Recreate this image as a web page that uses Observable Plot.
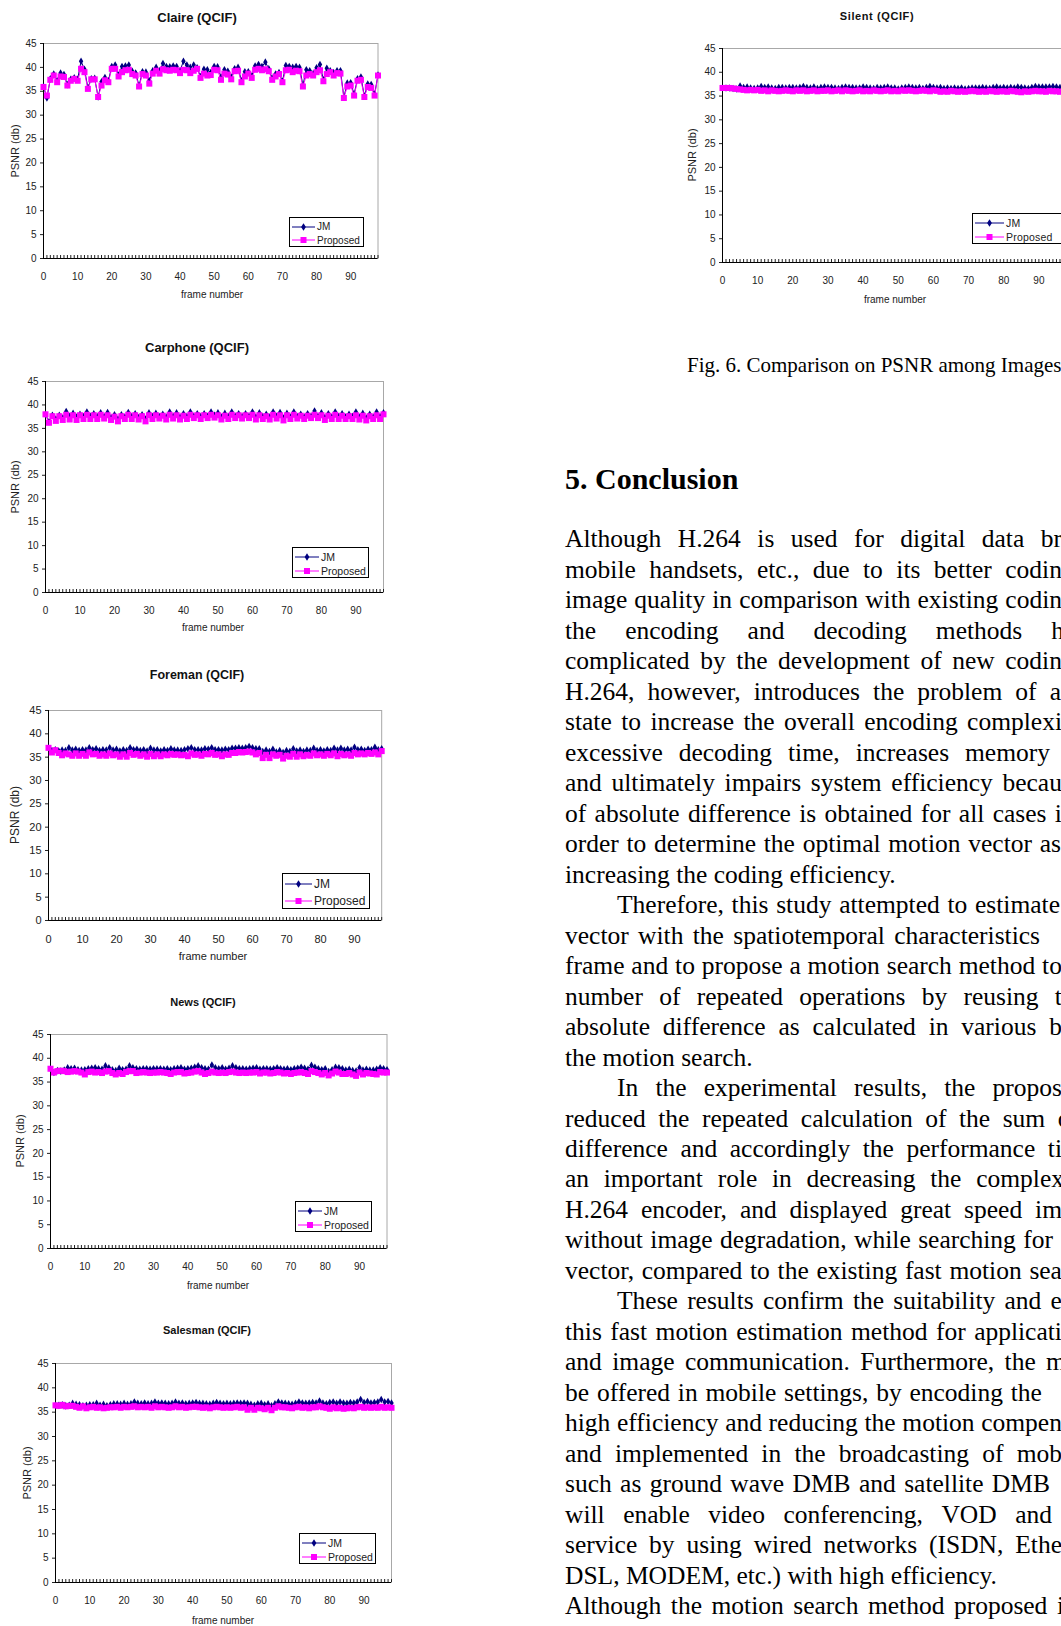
<!DOCTYPE html>
<html><head><meta charset="utf-8">
<script src="https://cdn.jsdelivr.net/npm/d3@7"></script>
<script src="https://cdn.jsdelivr.net/npm/@observablehq/plot@0.6"></script>
<style>
html,body{margin:0;padding:0;background:#fff;overflow:hidden;}
#page{position:relative;width:1061px;height:1626px;overflow:hidden;background:#fff;}
.abs{position:absolute;}
.sans{font-family:"Liberation Sans",Arial,sans-serif;color:#222;white-space:nowrap;}
.ctitle{font-weight:bold;color:#111;transform:translate(-50%,-50%);}
.ylab{transform:translate(-50%,-50%) rotate(-90deg);}
.xlab{transform:translate(-50%,-50%);}
.serif{font-family:"Liberation Serif","Times New Roman",serif;color:#000;white-space:nowrap;}
.tline{display:flex;justify-content:space-between;font-size:25.5px;height:30.49px;line-height:30.49px;}
.tline.end{justify-content:flex-start;}
</style></head>
<body><div id="page"></div>
<script>
// ---------- data ----------
const frames = d3.range(0, 99);
const yTicks = d3.range(0, 46, 5);
const xLabelTicks = d3.range(0, 91, 10);
const seriesNames = ["JM", "Proposed"];

const claireJM = [36.0,33.6,37.6,38.6,37.2,38.8,38.5,36.4,37.5,37.8,37.5,41.3,39.6,35.8,37.6,37.7,33.8,37.0,37.9,37.2,
40.2,40.5,38.4,40.2,40.3,40.5,39.2,38.8,36.2,39.1,39.0,37.2,39.3,40.0,39.3,40.8,40.2,40.1,40.3,40.2,
39.3,41.3,40.5,40.0,40.5,39.9,38.1,39.6,39.5,38.9,40.2,40.1,38.0,39.5,39.2,38.0,39.7,40.0,37.2,39.1,
39.1,38.2,40.3,40.6,40.2,41.1,39.7,37.7,38.6,38.9,37.1,40.4,40.2,40.0,40.2,40.0,36.3,39.5,39.3,38.7,
39.9,40.6,37.4,39.8,39.3,38.9,39.3,39.3,33.8,36.7,36.8,34.4,37.6,38.0,34.0,36.5,36.4,34.4,38.4];
const claireProposed = [35.9,34.1,37.4,38.3,36.9,38.1,38.0,36.2,37.2,37.6,37.2,39.7,39.0,35.5,37.5,37.5,33.8,36.2,37.3,36.9,
39.7,39.7,38.1,39.0,39.4,39.5,38.6,38.3,36.0,38.6,38.3,36.6,38.7,39.3,38.7,39.6,39.4,39.3,39.5,39.4,
38.8,39.5,39.4,38.8,39.3,39.7,37.8,38.7,38.3,38.4,39.5,39.4,37.4,38.7,38.5,37.5,39.2,39.3,36.9,38.1,
38.7,37.8,39.5,39.7,39.4,39.6,39.2,37.4,38.1,38.6,36.9,39.4,39.5,39.0,39.3,39.2,36.0,38.3,38.6,38.3,
39.0,39.4,37.1,38.6,39.0,38.3,38.8,38.7,33.6,36.0,36.2,34.1,37.2,37.4,33.8,35.9,35.7,34.1,38.3];

const carphoneJM = [38.0,36.4,37.8,37.0,37.8,37.2,38.6,37.6,38.2,37.4,38.0,37.5,38.5,37.6,38.1,37.5,38.3,37.5,38.4,37.3,
37.9,37.0,37.9,37.4,38.4,37.5,38.1,37.3,37.9,37.0,38.3,37.5,38.2,37.5,38.0,37.4,38.5,37.6,38.3,37.4,
38.1,37.5,38.5,37.6,38.1,37.5,38.1,37.6,38.5,37.8,38.3,37.4,38.2,37.5,38.5,37.6,38.1,37.5,38.1,37.6,
38.5,37.4,38.3,37.5,38.0,37.4,38.5,37.6,38.4,37.2,38.2,37.4,38.5,37.5,38.0,37.4,38.1,37.6,38.7,37.6,
38.3,37.3,38.1,37.4,38.5,37.5,38.1,37.4,38.0,37.5,38.5,37.4,38.2,37.2,38.0,37.4,38.5,37.5,38.3];
const carphoneProposed = [38.0,36.2,37.6,36.6,37.6,36.8,37.9,36.9,37.8,36.8,37.8,37.0,37.9,37.0,37.8,37.0,37.9,37.1,37.8,36.8,
37.5,36.5,37.6,37.0,37.9,37.0,37.8,36.9,37.6,36.5,37.8,37.0,37.8,37.1,37.7,36.9,37.9,37.1,37.8,36.9,
37.7,37.0,37.9,37.2,37.8,37.0,37.8,37.2,37.9,37.3,37.8,36.9,37.7,37.0,37.9,37.2,37.8,37.1,37.8,37.2,
37.9,36.9,37.8,37.0,37.6,36.9,37.9,37.1,37.8,36.7,37.8,37.0,37.9,37.1,37.7,37.0,37.7,37.2,37.9,37.2,
37.8,36.8,37.7,37.0,37.9,37.0,37.7,37.0,37.6,37.0,37.8,36.9,37.7,36.7,37.6,37.0,37.8,37.0,38.0];

const foremanJM = [37.0,36.4,36.6,36.3,36.5,36.4,37.0,36.5,36.7,36.4,36.6,36.5,37.0,36.6,36.8,36.4,36.6,36.5,37.0,36.5,
36.7,36.3,36.6,36.4,37.0,36.6,36.7,36.4,36.6,36.3,36.9,36.5,36.6,36.3,36.6,36.4,36.8,36.5,36.5,36.4,
36.6,36.8,37.0,36.6,36.6,36.5,36.8,36.7,37.0,36.6,36.6,36.5,36.7,36.6,36.9,36.9,37.0,36.9,37.0,37.3,
37.0,36.8,36.8,36.2,36.5,36.2,36.7,36.1,36.4,36.0,36.4,36.2,36.8,36.3,36.5,36.2,36.5,36.4,36.9,36.4,
36.6,36.3,36.6,36.4,36.9,36.5,36.9,36.5,36.7,36.5,37.1,36.6,36.7,36.4,36.7,36.6,37.1,36.6,36.8];
const foremanProposed = [37.0,36.0,36.5,35.9,35.4,35.8,35.6,35.3,35.8,35.3,35.7,35.3,36.0,35.6,35.7,35.3,35.6,35.3,35.8,35.4,
35.6,35.1,35.6,35.1,35.9,35.5,35.7,35.3,35.6,35.1,35.7,35.2,35.6,35.2,35.6,35.4,35.7,35.5,35.6,35.4,
35.5,35.2,35.8,35.5,35.6,35.3,35.7,35.6,35.9,35.5,35.6,35.2,35.6,35.5,35.9,35.9,36.1,36.0,36.1,36.2,
36.0,35.6,35.9,34.8,35.5,34.8,35.6,35.3,35.5,34.7,35.3,35.1,35.7,35.1,35.6,35.2,35.5,35.3,35.8,35.4,
35.6,35.3,35.7,35.4,35.8,35.2,35.7,35.4,35.6,35.3,35.9,35.6,35.8,35.6,35.9,35.7,36.0,35.6,36.3];

const newsJM = [37.8,37.0,37.4,37.3,37.5,38.0,37.8,37.9,37.6,37.5,37.6,37.8,37.9,38.0,37.8,37.7,38.4,38.0,37.6,37.4,
37.9,37.6,37.7,38.4,38.0,37.8,37.7,37.8,37.8,37.7,37.8,37.8,37.8,37.7,37.8,37.6,37.8,37.9,38.0,37.7,
37.8,37.9,38.1,38.4,38.0,37.8,37.7,38.6,38.0,37.8,38.0,37.7,37.9,38.4,38.0,37.8,37.8,37.7,37.8,37.9,
38.0,37.7,37.8,37.8,37.7,37.8,38.0,37.8,37.7,37.8,37.6,37.8,37.9,38.1,37.9,37.7,38.5,38.1,37.8,37.6,
37.8,37.2,37.6,38.1,38.0,37.8,37.5,37.7,37.4,37.3,38.0,37.5,37.7,37.5,37.5,37.7,38.0,37.8,37.6];
const newsProposed = [37.8,37.0,37.3,37.4,37.3,37.1,37.2,37.3,37.2,37.0,36.6,37.1,37.2,37.0,37.1,36.9,37.2,37.3,36.9,36.6,
36.9,36.7,37.1,37.3,37.3,36.9,37.0,37.1,37.0,36.9,37.0,37.0,37.1,37.0,36.9,36.7,37.0,37.1,37.1,36.8,
36.9,37.0,37.2,37.3,37.0,36.7,36.9,37.2,37.0,36.9,37.0,36.9,37.1,37.2,37.0,36.9,37.0,36.9,37.0,37.0,
37.1,36.8,37.0,37.0,36.8,36.9,37.1,37.0,36.8,36.9,36.7,36.9,37.0,37.1,36.9,36.7,37.3,37.1,36.9,36.6,
36.9,36.4,36.8,37.2,37.0,36.7,36.7,36.9,36.6,36.3,37.0,36.6,36.9,36.8,36.7,36.6,37.1,37.0,37.0];

const salesmanJM = [36.4,36.4,36.5,36.3,36.4,36.8,36.6,36.5,36.3,36.4,36.5,36.5,36.8,36.4,36.6,36.3,36.5,36.7,36.7,36.6,
36.8,36.6,36.7,37.1,36.8,36.7,36.9,36.7,36.8,37.1,36.8,36.9,36.8,36.7,36.8,37.1,36.8,36.9,36.7,36.8,
36.9,37.0,36.8,36.8,36.7,36.6,36.8,37.0,36.8,36.7,36.8,36.7,36.8,36.9,36.8,36.9,36.8,36.6,36.4,36.7,
36.8,36.5,36.7,36.3,36.7,37.1,36.9,36.8,36.7,36.6,36.8,37.1,36.9,36.8,36.9,37.0,36.9,37.3,36.9,36.7,
37.0,37.1,36.8,37.1,36.9,36.8,37.0,36.9,37.1,37.6,37.0,37.2,36.9,37.0,37.1,37.6,37.1,37.2,36.9];
const salesmanProposed = [36.4,36.3,36.5,36.2,36.3,36.3,36.1,35.9,36.2,35.8,36.0,36.1,35.9,36.0,35.8,35.9,36.0,36.0,36.1,35.9,
36.1,36.0,36.1,36.2,36.0,36.1,36.0,36.1,35.9,36.2,36.0,36.1,36.0,35.9,36.0,36.2,36.0,36.1,35.9,36.0,
36.1,36.1,36.0,35.9,36.0,35.8,36.0,36.1,36.0,35.9,36.0,35.9,36.0,36.1,35.9,36.0,35.5,35.9,35.5,35.9,
35.8,35.6,35.9,35.4,35.9,36.2,36.0,36.0,35.9,35.8,36.0,36.1,35.9,36.0,35.8,36.0,36.0,36.2,36.0,35.9,
35.7,36.0,35.8,35.9,35.7,35.8,35.9,35.8,36.0,36.1,35.9,36.0,35.9,36.0,35.9,36.1,35.9,36.0,35.9];

const silentJM = [36.7,36.7,36.7,36.6,36.5,37.1,36.8,36.9,36.7,36.6,36.7,37.0,36.8,36.9,36.7,36.6,36.8,36.8,36.7,36.8,
36.8,36.7,36.8,37.0,36.8,36.7,36.9,36.6,36.8,36.9,36.8,36.8,36.7,36.6,36.8,36.9,36.8,36.8,36.7,36.7,
36.9,36.8,36.7,36.6,36.8,36.7,36.8,36.9,36.7,36.7,36.5,36.7,36.8,36.9,36.8,36.7,36.8,36.6,36.8,37.0,
36.8,36.7,36.8,36.6,36.7,36.6,36.7,36.6,36.7,36.5,36.6,36.7,36.7,36.7,36.8,36.7,36.6,36.8,36.9,36.7,
36.8,36.7,36.8,36.7,36.9,36.8,36.7,36.6,36.8,37.0,36.9,36.9,36.9,36.9,37.0,36.9,36.8,36.9,36.8];
const silentProposed = [36.7,36.7,36.7,36.6,36.5,36.4,36.3,36.2,36.3,36.2,36.3,36.1,36.2,36.0,36.2,36.1,36.0,36.1,36.2,36.1,
36.0,36.2,36.1,36.2,36.0,36.1,36.2,36.0,36.1,36.1,36.2,36.0,36.1,36.2,36.0,36.2,36.1,36.0,36.1,36.2,
36.0,36.1,36.0,36.2,36.1,36.0,36.1,36.2,36.0,36.1,36.0,36.2,36.1,36.2,36.1,36.0,36.1,36.2,36.1,36.0,
36.2,36.1,35.9,36.0,35.9,36.1,36.0,35.9,36.0,35.9,36.0,36.1,36.0,35.9,36.0,35.9,36.1,36.0,35.9,36.0,
36.0,35.9,36.1,36.0,35.9,35.8,36.0,35.9,36.0,36.1,36.0,36.0,35.9,36.1,36.0,36.0,35.9,36.0,36.0];

const chartTitles = ["Claire (QCIF)","Carphone (QCIF)","Foreman (QCIF)","News (QCIF)","Salesman (QCIF)","Silent (QCIF)"];
const yAxisTitle = "PSNR (db)";
const xAxisTitle = "frame number";
const captionText = "Fig. 6. Comparison on PSNR among Images";
const headingText = "5. Conclusion";

const textLines = [
 ["Although H.264 is used for digital data br", 1062, 0],
 ["mobile handsets, etc., due to its better codin", 1062, 0],
 ["image quality in comparison with existing codin", 1062, 0],
 ["the encoding and decoding methods h", 1064, 0],
 ["complicated by the development of new codin", 1062, 0],
 ["H.264, however, introduces the problem of a", 1061, 0],
 ["state to increase the overall encoding complexi", 1062, 0],
 ["excessive decoding time, increases memory", 1050, 0],
 ["and ultimately impairs system efficiency becau", 1062, 0],
 ["of absolute difference is obtained for all cases i", 1062, 0],
 ["order to determine the optimal motion vector as", 1061, 0],
 ["increasing the coding efficiency.", null, 0],
 ["Therefore, this study attempted to estimate", 1060, 52],
 ["vector with the spatiotemporal characteristics", 1040, 0],
 ["frame and to propose a motion search method to", 1062, 0],
 ["number of repeated operations by reusing t", 1062, 0],
 ["absolute difference as calculated in various b", 1062, 0],
 ["the motion search.", null, 0],
 ["In the experimental results, the propos", 1062, 52],
 ["reduced the repeated calculation of the sum of", 1079, 0],
 ["difference and accordingly the performance ti", 1062, 0],
 ["an important role in decreasing the complex", 1064, 0],
 ["H.264 encoder, and displayed great speed im", 1062, 0],
 ["without image degradation, while searching for", 1053, 0],
 ["vector, compared to the existing fast motion sea", 1062, 0],
 ["These results confirm the suitability and e", 1062, 52],
 ["this fast motion estimation method for applicati", 1062, 0],
 ["and image communication. Furthermore, the m", 1066, 0],
 ["be offered in mobile settings, by encoding the", 1042, 0],
 ["high efficiency and reducing the motion compen", 1062, 0],
 ["and implemented in the broadcasting of mob", 1062, 0],
 ["such as ground wave DMB and satellite DMB", 1050, 0],
 ["will enable video conferencing, VOD and", 1052, 0],
 ["service by using wired networks (ISDN, Ethe", 1062, 0],
 ["DSL, MODEM, etc.) with high efficiency.", null, 0],
 ["Although the motion search method proposed i", 1064, 0]
];

// ---------- layout ----------
const JM_COLOR = "#000080", PR_COLOR = "#ff00ff";
const charts = [
 {title: chartTitles[0], jm: claireJM, prop: claireProposed, L:43, T:43, R:377.5, B:258, tx:197, ty:17, tfs:13, fs:10, ylx:15, xlx:212, xly:294, lg:{x:289,y:217,w:75,h:30,fs:10}},
 {title: chartTitles[1], jm: carphoneJM, prop: carphoneProposed, L:45, T:381, R:383, B:592, tx:197, ty:347, tfs:13, fs:10, ylx:15, xlx:213, xly:627, lg:{x:292,y:547,w:77,h:31,fs:10.5}},
 {title: chartTitles[2], jm: foremanJM, prop: foremanProposed, L:47.5, T:710, R:380.7, B:920, tx:197, ty:675, tfs:12.5, fs:11, ylx:15, xlx:213, xly:956, lg:{x:282,y:873,w:88,h:36,fs:12}},
 {title: chartTitles[3], jm: newsJM, prop: newsProposed, L:50, T:1034, R:386.5, B:1248, tx:203, ty:1002, tfs:11, fs:10, ylx:20, xlx:218, xly:1285, lg:{x:295,y:1201,w:77,h:31,fs:10.5}},
 {title: chartTitles[4], jm: salesmanJM, prop: salesmanProposed, L:55, T:1363, R:391, B:1582, tx:207, ty:1330, tfs:11, fs:10, ylx:27, xlx:223, xly:1620, lg:{x:299,y:1533,w:77,h:31,fs:10.5}},
 {title: chartTitles[5], jm: silentJM, prop: silentProposed, L:721.5, T:48, R:1066, B:262, tx:877, ty:16, tfs:11, fs:10, ylx:692, xlx:895, xly:299, lg:{x:972,y:213,w:95,h:31,fs:10.5}, spaced:true}
];

const page = document.getElementById("page");
function el(tag, cls, css, text){
  const e = document.createElement(tag);
  if (cls) e.className = cls;
  Object.assign(e.style, css || {});
  if (text != null) e.textContent = text;
  page.appendChild(e);
  return e;
}
const series = vals => vals.map((v, i) => ({frame: frames[i], psnr: v}));

function drawChart(c){
  const mL = 34, mR = 6, mT = 6, mB = 28;
  const W = c.R - c.L + mL + mR, H = c.B - c.T + mT + mB;
  const jm = series(c.jm), pr = series(c.prop);
  const svg = Plot.plot({
    width: W, height: H, marginLeft: mL, marginRight: mR, marginTop: mT, marginBottom: mB,
    style: {fontFamily: '"Liberation Sans", Arial, sans-serif', fontSize: c.fs + "px", color: "#222", background: "transparent", overflow: "visible"},
    x: {domain: [0, 98]},
    y: {domain: [0, 45]},
    marks: [
      Plot.frame({stroke: "#a8a8a8"}),
      Plot.axisY({ticks: yTicks, tickSize: 3, tickPadding: 4, label: null}),
      Plot.axisX({ticks: xLabelTicks, tickSize: 0, tickPadding: 14.5, label: null}),
      Plot.axisX({ticks: frames, tickSize: -3, tickFormat: () => "", label: null}),
      Plot.ruleX([0], {stroke: "#000"}),
      Plot.ruleY([0], {stroke: "#000"}),
      Plot.line(jm, {x: "frame", y: "psnr", stroke: JM_COLOR, strokeWidth: 1}),
      Plot.dot(jm, {x: "frame", y: "psnr", symbol: "diamond", fill: JM_COLOR, r: 2.3}),
      Plot.line(pr, {x: "frame", y: "psnr", stroke: PR_COLOR, strokeWidth: 1}),
      Plot.dot(pr, {x: "frame", y: "psnr", symbol: "square", fill: PR_COLOR, r: 3.4})
    ]
  });
  Object.assign(svg.style, {position: "absolute", left: (c.L - mL) + "px", top: (c.T - mT) + "px"});
  page.appendChild(svg);

  el("div", "abs sans ctitle", {left: c.tx + "px", top: c.ty + "px", fontSize: c.tfs + "px", letterSpacing: c.spaced ? "0.6px" : "0"}, c.title);
  el("div", "abs sans ylab", {left: c.ylx + "px", top: ((c.T + c.B) / 2) + "px", fontSize: (c.fs + 1) + "px"}, yAxisTitle);
  el("div", "abs sans xlab", {left: c.xlx + "px", top: c.xly + "px", fontSize: c.fs + "px"}, xAxisTitle);

  // legend box
  const g = c.lg;
  const box = el("div", "abs", {left: g.x + "px", top: g.y + "px", width: (g.w - 2) + "px", height: (g.h - 2) + "px", border: "1px solid #000", background: "#fff"});
  const symW = Math.round(g.w * 0.31);
  [[seriesNames[0], JM_COLOR, "diamond"], [seriesNames[1], PR_COLOR, "square"]].forEach(([name, col, sym], i) => {
    const row = document.createElement("div");
    Object.assign(row.style, {position: "absolute", left: "2px", top: ((i === 0 ? g.h * 0.29 : g.h * 0.74) - 8) + "px", height: "16px", display: "flex", alignItems: "center"});
    const ns = "http://www.w3.org/2000/svg";
    const s = document.createElementNS(ns, "svg");
    s.setAttribute("width", symW); s.setAttribute("height", 10);
    const ln = document.createElementNS(ns, "line");
    ln.setAttribute("x1", 0); ln.setAttribute("x2", symW); ln.setAttribute("y1", 5); ln.setAttribute("y2", 5);
    ln.setAttribute("stroke", col); ln.setAttribute("stroke-width", 1);
    s.appendChild(ln);
    const cx = symW / 2;
    let m;
    if (sym === "diamond") {
      m = document.createElementNS(ns, "polygon");
      m.setAttribute("points", `${cx},1.3 ${cx + 2.4},5 ${cx},8.7 ${cx - 2.4},5`);
    } else {
      m = document.createElementNS(ns, "rect");
      m.setAttribute("x", cx - 3); m.setAttribute("y", 2); m.setAttribute("width", 6); m.setAttribute("height", 6);
    }
    m.setAttribute("fill", col);
    s.appendChild(m);
    row.appendChild(s);
    const t = document.createElement("span");
    t.className = "sans";
    Object.assign(t.style, {fontSize: g.fs + "px", marginLeft: "2px", letterSpacing: c.spaced ? "0.2px" : "0"});
    t.textContent = name;
    row.appendChild(t);
    box.appendChild(row);
  });
}
charts.forEach(drawChart);

// ---------- text column ----------
el("div", "abs serif", {left: "687px", top: "352px", fontSize: "21px", lineHeight: "26px"}, captionText);
el("div", "abs serif", {left: "565px", top: "461px", fontSize: "30px", lineHeight: "36px", fontWeight: "bold"}, headingText);

const LH = 30.49, top0 = 524.2, colLeft = 565;
textLines.forEach(([txt, right, indent], i) => {
  const left = colLeft + indent;
  const d = el("div", "abs serif tline" + (right == null ? " end" : ""), {left: left + "px", top: (top0 + i * LH) + "px", width: (right == null ? 520 : right - left) + "px"});
  if (right == null) {
    d.textContent = txt;
    d.style.whiteSpace = "pre";
  } else {
    txt.split(" ").forEach(w => {
      const s = document.createElement("span");
      s.textContent = w;
      d.appendChild(s);
    });
  }
});
</script>
</body></html>
